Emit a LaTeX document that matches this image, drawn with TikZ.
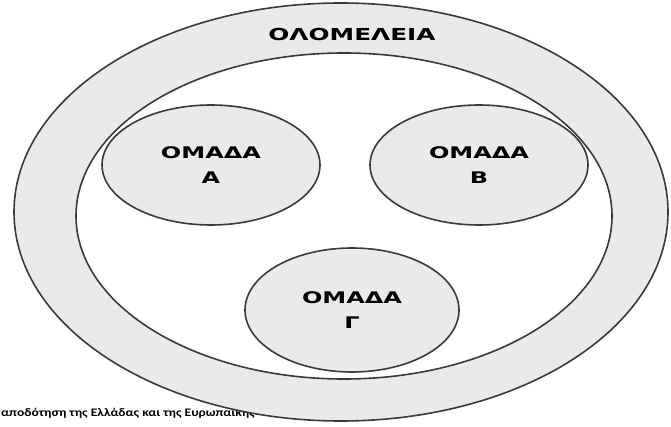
\documentclass[tikz,border=0pt]{standalone}
\usepackage{fontspec}
\setmainfont{DejaVu Sans}
\newfontfamily\carl{Carlito}
\usetikzlibrary{shapes.geometric}
\definecolor{ringfill}{HTML}{EAEAEA}
\definecolor{edge}{HTML}{3A3A3A}
\tikzset{
  blob/.style={ellipse, draw=edge, line width=1.6pt, fill=ringfill, inner sep=0pt, align=center,
    font=\fontsize{16}{25}\selectfont\bfseries},
  hole/.style={ellipse, draw=edge, line width=1.6pt, fill=white, inner sep=0pt},
}
\newcommand{\wide}[1]{\scalebox{1.5}[1]{#1}}
\begin{document}
\begin{tikzpicture}[x=1pt,y=-1pt]
\useasboundingbox (0,0) rectangle (671,427);
\node[anchor=west, inner sep=0pt, font=\carl\fontsize{11.5}{12}\selectfont\bfseries] (caption) at (1,413)
  {\scalebox{1.18}[1]{αποδότηση της Ελλάδας και της Ευρωπαϊκής}};
\node[blob, minimum width=654pt, minimum height=418pt] (plenary) at (341,212) {};
\node[hole, minimum width=536pt, minimum height=326pt] (inner) at (344,216) {};
\node[font=\fontsize{16.5}{20}\selectfont\bfseries] (title) at (352,34) {\wide{ΟΛΟΜΕΛΕΙΑ}};
\node[blob, minimum width=218pt, minimum height=120pt] (groupA) at (211,165) {\wide{ΟΜΑΔΑ}\\\wide{Α}};
\node[blob, minimum width=218pt, minimum height=120pt] (groupB) at (479,165) {\wide{ΟΜΑΔΑ}\\\wide{Β}};
\node[blob, minimum width=214pt, minimum height=124pt] (groupC) at (352,310) {\wide{ΟΜΑΔΑ}\\\wide{Γ}};
\end{tikzpicture}
\end{document}
